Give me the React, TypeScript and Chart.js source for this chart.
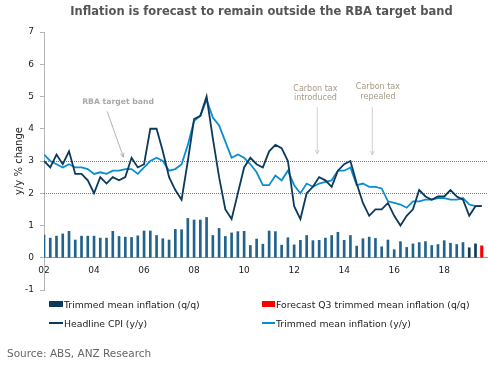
import React, { useEffect, useRef } from 'react';
import { Chart, registerables } from 'chart.js';

Chart.register(...registerables);

const FONT = "'DejaVu Sans', Verdana, sans-serif";

// Quarterly index 0 = 2002 Q1 ... 70 = 2019 Q3
const TICK_POSITIONS = [0, 8, 16, 24, 32, 40, 48, 56, 64];
const TICK_LABELS = ['02', '04', '06', '08', '10', '12', '14', '16', '18'];

const HEADLINE_CPI_YY = [
  3.0, 2.8, 3.2, 2.9,
  3.3, 2.6, 2.6, 2.4,
  2.0, 2.5, 2.3, 2.5,
  2.4, 2.5, 3.1, 2.8,
  2.9, 4.0, 4.0, 3.3,
  2.5, 2.1, 1.8, 3.0,
  4.3, 4.4, 5.0, 3.7,
  2.5, 1.5, 1.2, 2.0,
  2.8, 3.1, 2.9, 2.8,
  3.3, 3.5, 3.4, 3.0,
  1.6, 1.2, 2.0, 2.2,
  2.5, 2.4, 2.2, 2.7,
  2.9, 3.0, 2.3, 1.7,
  1.3, 1.5, 1.5, 1.7,
  1.3, 1.0, 1.3, 1.5,
  2.1, 1.9, 1.8, 1.9,
  1.9, 2.1, 1.9, 1.8,
  1.3, 1.6, 1.6,
];

const TRIMMED_MEAN_YY = [
  3.2, 3.0, 2.9, 2.8,
  2.9, 2.8, 2.8, 2.75,
  2.6, 2.65, 2.6, 2.7,
  2.7, 2.75, 2.75, 2.6,
  2.8, 3.0, 3.1, 3.0,
  2.7, 2.75, 2.9, 3.5,
  4.25, 4.4, 4.9, 4.35,
  4.1, 3.6, 3.1, 3.2,
  3.1, 2.9, 2.65, 2.25,
  2.25, 2.55, 2.4, 2.7,
  2.25, 2.0, 2.3, 2.2,
  2.3, 2.35, 2.4, 2.7,
  2.7, 2.8, 2.25, 2.3,
  2.2, 2.2, 2.15, 1.75,
  1.7, 1.65, 1.55, 1.75,
  1.75, 1.8, 1.8, 1.85,
  1.85, 1.8, 1.8, 1.85,
  1.65, 1.6, 1.6,
];

// 2002 Q1 ... 2019 Q2
const TRIMMED_MEAN_QQ = [
  0.70, 0.61, 0.67, 0.74,
  0.82, 0.55, 0.67, 0.67,
  0.67, 0.61, 0.61, 0.82,
  0.66, 0.64, 0.63, 0.68,
  0.83, 0.83, 0.69, 0.59,
  0.55, 0.88, 0.87, 1.22,
  1.17, 1.17, 1.25, 0.69,
  0.91, 0.66, 0.77, 0.81,
  0.82, 0.38, 0.58, 0.42,
  0.83, 0.81, 0.39, 0.62,
  0.40, 0.54, 0.69, 0.53,
  0.54, 0.61, 0.69, 0.79,
  0.54, 0.69, 0.36, 0.59,
  0.64, 0.60, 0.34, 0.55,
  0.25, 0.50, 0.32, 0.43,
  0.47, 0.50, 0.38, 0.41,
  0.53, 0.45, 0.41, 0.47,
  0.31, 0.43,
];
const RECENT_QQ_FROM = 68; // 2019 Q1 onwards drawn darker

const FORECAST_Q3_INDEX = 70;
const FORECAST_Q3_QQ = 0.37;

const RBA_BAND = [2, 3];

const ANNOTATIONS = [
  { lines: ['RBA target band'], bold: true, color: '#a8a8a8', x: 6.1, y: 4.83, align: 'left', arrow: [10.1, 4.54, 12.7, 3.12], arrowColor: '#a0a0a0' },
  { lines: ['Carbon tax', 'introduced'], bold: false, color: '#a89886', x: 43.4, y: 5.24, align: 'center', arrow: [43.7, 4.67, 43.7, 3.22], arrowColor: '#c4c4c4' },
  { lines: ['Carbon tax', 'repealed'], bold: false, color: '#a89886', x: 53.4, y: 5.29, align: 'center', arrow: [52.5, 4.67, 52.5, 3.19], arrowColor: '#c4c4c4' },
];

const NAVY = '#0c3a5c';
const BAR_BLUE = '#22638e';
const LIGHT_BLUE = '#0b8ed0';
const RED = '#ff0000';

const bandPlugin = {
  id: 'bandLines',
  beforeDatasetsDraw(chart: any) {
    const { ctx, chartArea, scales } = chart;
    ctx.save();
    ctx.strokeStyle = '#7a7a7a';
    ctx.lineWidth = 1;
    ctx.setLineDash([1, 1]);
    RBA_BAND.forEach((v) => {
      const y = Math.round(scales.y.getPixelForValue(v)) + 0.5;
      ctx.beginPath();
      ctx.moveTo(chartArea.left, y);
      ctx.lineTo(chartArea.right, y);
      ctx.stroke();
    });
    ctx.restore();
  },
};

const annotationPlugin = {
  id: 'notes',
  afterDatasetsDraw(chart: any) {
    const { ctx, scales } = chart;
    const xs = scales.x;
    const ys = scales.y;
    ctx.save();
    ANNOTATIONS.forEach((a) => {
      ctx.font = (a.bold ? 'bold 7.7px ' : '8px ') + FONT;
      ctx.fillStyle = a.color;
      ctx.textAlign = a.align as CanvasTextAlign;
      ctx.textBaseline = 'middle';
      const tx = xs.getPixelForValue(a.x);
      const ty = ys.getPixelForValue(a.y);
      a.lines.forEach((l, k) => ctx.fillText(l, tx, ty + k * 9.5));
      const [x1v, y1v, x2v, y2v] = a.arrow;
      const x1 = xs.getPixelForValue(x1v);
      const y1 = ys.getPixelForValue(y1v);
      const x2 = xs.getPixelForValue(x2v);
      const y2 = ys.getPixelForValue(y2v);
      ctx.strokeStyle = a.arrowColor;
      ctx.lineWidth = 0.8;
      ctx.beginPath();
      ctx.moveTo(x1, y1);
      ctx.lineTo(x2, y2);
      const ang = Math.atan2(y2 - y1, x2 - x1);
      const hl = 4.5;
      ctx.moveTo(x2, y2);
      ctx.lineTo(x2 - hl * Math.cos(ang - 0.45), y2 - hl * Math.sin(ang - 0.45));
      ctx.moveTo(x2, y2);
      ctx.lineTo(x2 - hl * Math.cos(ang + 0.45), y2 - hl * Math.sin(ang + 0.45));
      ctx.stroke();
    });
    ctx.restore();
  },
};

export default function App() {
  const ref = useRef<HTMLCanvasElement | null>(null);

  useEffect(() => {
    if (!ref.current) return;
    Chart.defaults.font.family = FONT;
    const chart = new Chart(ref.current, {
      type: 'bar',
      data: {
        datasets: [
          {
            type: 'line',
            label: 'Trimmed mean inflation (y/y)',
            data: TRIMMED_MEAN_YY.map((v, i) => ({ x: i, y: v })),
            borderColor: LIGHT_BLUE,
            borderWidth: 1.8,
            pointRadius: 0,
            tension: 0,
            order: 1,
          },
          {
            type: 'line',
            label: 'Headline CPI (y/y)',
            data: HEADLINE_CPI_YY.map((v, i) => ({ x: i, y: v })),
            borderColor: NAVY,
            borderWidth: 1.8,
            pointRadius: 0,
            tension: 0,
            order: 0,
          },
          {
            type: 'bar',
            label: 'Trimmed mean inflation (q/q)',
            data: TRIMMED_MEAN_QQ.map((v, i) => ({ x: i, y: v })),
            backgroundColor: TRIMMED_MEAN_QQ.map((_, i) => (i >= RECENT_QQ_FROM ? NAVY : BAR_BLUE)),
            barThickness: 2,
            grouped: false,
            order: 3,
          },
          {
            type: 'bar',
            label: 'Forecast Q3 trimmed mean inflation (q/q)',
            data: [{ x: FORECAST_Q3_INDEX, y: FORECAST_Q3_QQ }],
            backgroundColor: RED,
            barThickness: 2.5,
            grouped: false,
            order: 2,
          },
        ],
      } as any,
      options: {
        responsive: false,
        animation: false,
        layout: { padding: { top: 32, bottom: 77, left: 0, right: 0 } },
        plugins: {
          legend: { display: false },
          tooltip: { enabled: false },
          title: { display: false },
        },
        scales: {
          x: {
            type: 'linear',
            position: { y: 0 } as any,
            offset: false,
            min: 0,
            max: 71,
            grid: { display: false, drawTicks: false, offset: false },
            border: { display: true, color: '#9a9a9a', width: 1 },
            afterBuildTicks: (scale: any) => {
              scale.ticks = TICK_POSITIONS.map((v) => ({ value: v }));
            },
            ticks: {
              autoSkip: false,
              maxRotation: 0,
              padding: 8,
              color: '#222',
              font: { size: 9 },
              callback: (v: any) => {
                const k = TICK_POSITIONS.indexOf(Number(v));
                return k >= 0 ? TICK_LABELS[k] : '';
              },
            },
          },
          y: {
            type: 'linear',
            min: -1,
            max: 7,
            afterFit: (scale: any) => {
              scale.width = 44;
            },
            grid: {
              display: true,
              drawOnChartArea: false,
              drawTicks: true,
              tickLength: 4,
              color: '#b5b5b5',
            },
            border: { display: true, color: '#b5b5b5', width: 1 },
            ticks: { stepSize: 1, padding: 6, color: '#222', font: { size: 9 } },
            title: {
              display: true,
              text: 'y/y % change',
              color: '#222',
              font: { size: 10 },
              padding: { top: 13, bottom: 0 },
            },
          },
        },
      } as any,
      plugins: [bandPlugin, annotationPlugin],
    });
    return () => chart.destroy();
  }, []);

  const text = (extra: React.CSSProperties): React.CSSProperties => ({
    position: 'absolute',
    fontFamily: FONT,
    whiteSpace: 'nowrap',
    ...extra,
  });

  return (
    <div style={{ position: 'absolute', left: 0, top: 0, width: 488, height: 367, background: '#fff', overflow: 'hidden' }}>
      <canvas ref={ref} width={488} height={367} style={{ position: 'absolute', left: 0, top: 0, width: 488, height: 367 }} />
      <div style={text({ left: 261.5, top: 4, transform: 'translateX(-50%)', fontSize: 11.5, lineHeight: '15px', fontWeight: 'bold', color: '#555' })}>
        Inflation is forecast to remain outside the RBA target band
      </div>
      {/* legend */}
      <div style={{ position: 'absolute', left: 49, top: 301, width: 14, height: 6, background: NAVY }} />
      <div style={text({ left: 64, top: 299, fontSize: 9.3, lineHeight: '12px', color: '#222' })}>Trimmed mean inflation (q/q)</div>
      <div style={{ position: 'absolute', left: 262, top: 301, width: 13, height: 6, background: RED }} />
      <div style={text({ left: 276, top: 299, fontSize: 9.3, lineHeight: '12px', color: '#222' })}>Forecast Q3 trimmed mean inflation (q/q)</div>
      <div style={{ position: 'absolute', left: 49, top: 322, width: 14, height: 1.6, background: NAVY }} />
      <div style={text({ left: 64, top: 317.5, fontSize: 9.3, lineHeight: '12px', color: '#222' })}>Headline CPI (y/y)</div>
      <div style={{ position: 'absolute', left: 262, top: 322, width: 13, height: 1.6, background: LIGHT_BLUE }} />
      <div style={text({ left: 276, top: 317.5, fontSize: 9.3, lineHeight: '12px', color: '#222' })}>Trimmed mean inflation (y/y)</div>
      <div style={text({ left: 7, top: 346, fontSize: 10.5, lineHeight: '14px', color: '#666' })}>Source: ABS, ANZ Research</div>
    </div>
  );
}
